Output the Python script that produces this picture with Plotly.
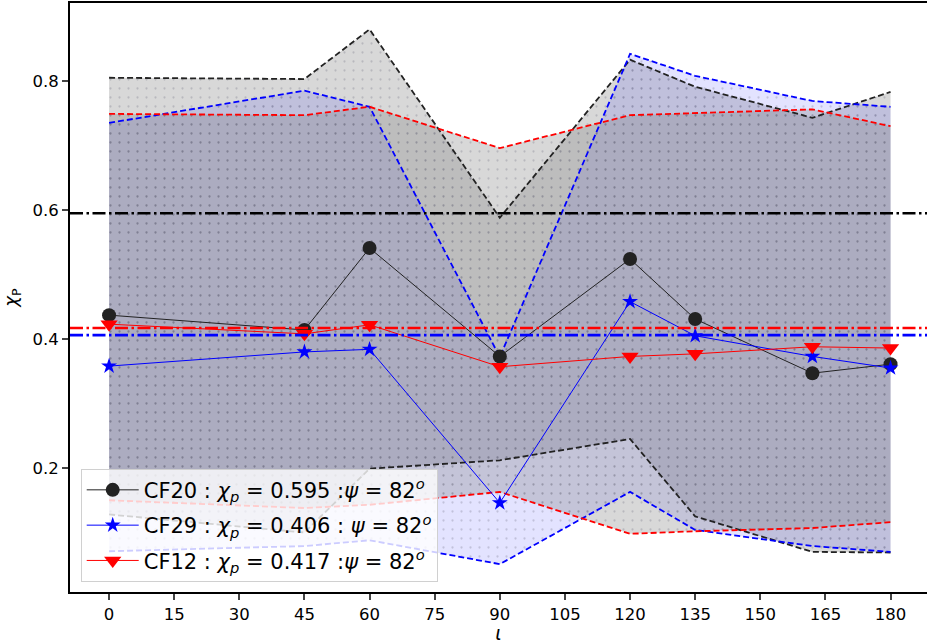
import plotly.graph_objects as go

# inclination angle (deg)
iota = [0, 45, 60, 90, 120, 135, 162, 180]

# CF20
cf20 = [0.437, 0.414, 0.541, 0.373, 0.524, 0.431, 0.347, 0.361]
cf20_hi = [0.805, 0.803, 0.880, 0.588, 0.833, 0.791, 0.743, 0.783]
cf20_lo = [0.128, 0.100, 0.199, 0.212, 0.245, 0.125, 0.070, 0.069]

# CF29
cf29 = [0.358, 0.380, 0.384, 0.146, 0.458, 0.405, 0.373, 0.355]
cf29_hi = [0.735, 0.785, 0.760, 0.372, 0.842, 0.808, 0.769, 0.760]
cf29_lo = [0.071, 0.079, 0.088, 0.051, 0.163, 0.104, 0.079, 0.070]

# CF12
cf12 = [0.423, 0.408, 0.422, 0.357, 0.373, 0.377, 0.388, 0.386]
cf12_hi = [0.749, 0.747, 0.760, 0.696, 0.747, 0.750, 0.756, 0.730]
cf12_lo = [0.150, 0.138, 0.143, 0.163, 0.098, 0.102, 0.107, 0.116]

# injected chi_p values
chi_true = [0.595, 0.406, 0.417]
psi = 82

x_ticks = list(range(0, 181, 15))
y_ticks = [0.2, 0.4, 0.6, 0.8]

FONT = "DejaVu Sans"

series = [
    dict(name="CF20", y=cf20, hi=cf20_hi, lo=cf20_lo, chi=chi_true[0],
         line="#222222", edge="#222222", fill="rgba(128,128,128,0.30)",
         symbol="circle", msize=14, sep=" :"),
    dict(name="CF29", y=cf29, hi=cf29_hi, lo=cf29_lo, chi=chi_true[1],
         line="#0000ff", edge="#0000ff", fill="rgba(0,0,255,0.11)",
         symbol="star", msize=12, sep=" : "),
    dict(name="CF12", y=cf12, hi=cf12_hi, lo=cf12_lo, chi=chi_true[2],
         line="#ff0000", edge="#ff0000", fill="rgba(128,128,128,0.30)",
         symbol="triangle-down", msize=15, sep=" :"),
]

fig = go.Figure()

# shaded credible bands with dotted hatching
for s in series:
    fig.add_trace(go.Scatter(
        x=iota + iota[::-1],
        y=s["hi"] + s["lo"][::-1],
        fill="toself",
        fillcolor=s["fill"],
        fillpattern=dict(shape=".", size=9, solidity=0.05,
                         fgcolor="rgba(90,90,110,0.5)", bgcolor=s["fill"]),
        line=dict(width=0),
        mode="lines",
        hoverinfo="skip",
        showlegend=False,
    ))

# dashed band edges
for s in series:
    for edge in (s["hi"], s["lo"]):
        fig.add_trace(go.Scatter(
            x=iota, y=edge, mode="lines",
            line=dict(color=s["edge"], width=1.8, dash="6px,3px"),
            hoverinfo="skip", showlegend=False,
        ))

# median curves
for i, s in enumerate(series):
    label = (f"{s['name']} : <i>χ<sub>p</sub></i> = {s['chi']:.3f}{s['sep']}"
             f"<i>ψ</i> = {psi}<sup><i>o</i></sup>")
    fig.add_trace(go.Scatter(
        x=iota, y=s["y"], mode="lines+markers",
        line=dict(color=s["line"], width=1),
        marker=dict(symbol=s["symbol"], size=s["msize"], color=s["line"],
                    line=dict(width=0)),
        name=label, legendgroup=f"g{i}",
    ))

# horizontal reference lines at the injected chi_p
for s in series:
    color = "#000000" if s["name"] == "CF20" else s["line"]
    fig.add_shape(type="line", xref="paper", x0=0, x1=1, yref="y",
                  y0=s["chi"], y1=s["chi"], layer="above",
                  line=dict(color=color, width=2.6, dash="13px,3.5px,2.5px,3.5px"))

fig.update_layout(
    width=927, height=644,
    margin=dict(l=70, r=0, t=3, b=52),
    paper_bgcolor="white", plot_bgcolor="white",
    font=dict(family=FONT, size=16, color="black"),
    showlegend=True,
    legend=dict(
        x=0.0125, y=0.0175, xanchor="left", yanchor="bottom",
        bgcolor="rgba(255,255,255,0.8)", bordercolor="#d0d0d0", borderwidth=1,
        font=dict(family=FONT, size=21, color="black"),
        traceorder="grouped", tracegroupgap=5, itemwidth=52,
    ),
    xaxis=dict(
        range=[-9, 188.4], tickvals=x_ticks, ticks="outside", ticklen=6,
        tickwidth=1.5, showgrid=False, zeroline=False,
        showline=True, linecolor="black", linewidth=2, mirror=True,
        tickfont=dict(size=16.5),
        title=dict(text="<i>ι</i>", font=dict(size=19), standoff=2),
    ),
    yaxis=dict(
        range=[0.0078, 0.9209], tickvals=y_ticks, ticktext=["0.2", "0.4", "0.6", "0.8"],
        ticks="outside", ticklen=6, tickwidth=1.5, showgrid=False, zeroline=False,
        showline=True, linecolor="black", linewidth=2,
        tickfont=dict(size=16.5),
        title=dict(text="<i>χ</i><sub>P</sub>", font=dict(size=18), standoff=10),
    ),
)

fig.write_html("out.html")
